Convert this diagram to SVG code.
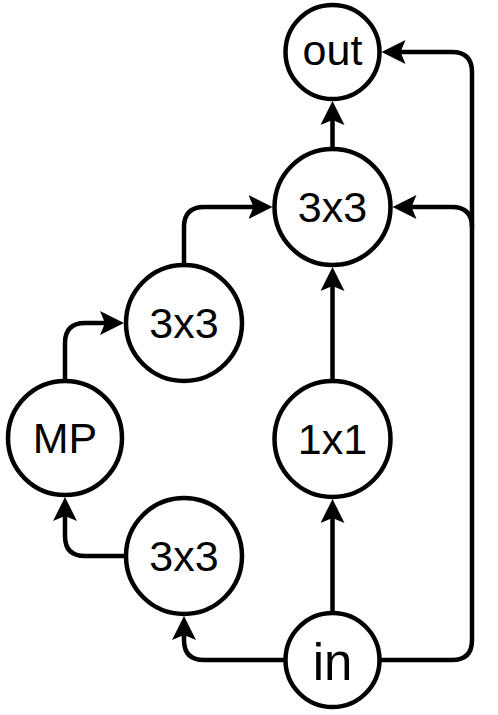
<svg xmlns="http://www.w3.org/2000/svg" width="498" height="715" viewBox="0 0 498 715">
<style>
.n{fill:#fff;stroke:#000;stroke-width:4.5}
.t{font-family:"Liberation Sans",Arial,sans-serif;font-size:43px;text-anchor:middle;fill:#000}
.e{fill:none;stroke:#000;stroke-width:4.5;marker-end:url(#a)}
</style>
<defs>
<marker id="a" markerUnits="userSpaceOnUse" viewBox="0 0 24 24" refX="12" refY="12" markerWidth="24" markerHeight="24" orient="auto">
<path d="M24,12 L0,0 L5,12 L0,24 Z" fill="#000"/>
</marker>
</defs>
<rect width="498" height="715" fill="#fff"/>
<g id="edges">
<path class="e" d="M332.5,613 V511"/>
<path class="e" d="M332.5,381 V279"/>
<path class="e" d="M332.5,149 V113"/>
<path class="e" d="M285.5,660 H204 Q184,660 184,640 V628"/>
<path class="e" d="M126,556 H85 Q65,556 65,536 V509"/>
<path class="e" d="M65,381 V343 Q65,323 85,323 H112"/>
<path class="e" d="M184,265 V227 Q184,207 204,207 H260.5"/>
<path class="e" d="M379.5,660 H452 Q472,660 472,640 V227 Q472,207 452,207 H404.5"/>
<path class="e" d="M472,227 V72 Q472,52 452,52 H393.5"/>
</g>
<g id="out"><circle class="n" cx="332.5" cy="52" r="47"/><text class="t" x="332.5" y="65">out</text></g>
<g id="top3"><circle class="n" cx="332.5" cy="207" r="58"/><text class="t" x="332.5" y="222">3x3</text></g>
<g id="mid3"><circle class="n" cx="184" cy="323" r="58"/><text class="t" x="184" y="338">3x3</text></g>
<g id="mp"><circle class="n" cx="65" cy="438" r="57"/><text class="t" x="65" y="453">MP</text></g>
<g id="n1x1"><circle class="n" cx="332.5" cy="439" r="58"/><text class="t" x="332.5" y="454">1x1</text></g>
<g id="low3"><circle class="n" cx="184" cy="556" r="58"/><text class="t" x="184" y="571">3x3</text></g>
<g id="in"><circle class="n" cx="332.5" cy="660" r="47"/><text class="t" x="332.5" y="680" style="font-size:51px">in</text></g>
</svg>
